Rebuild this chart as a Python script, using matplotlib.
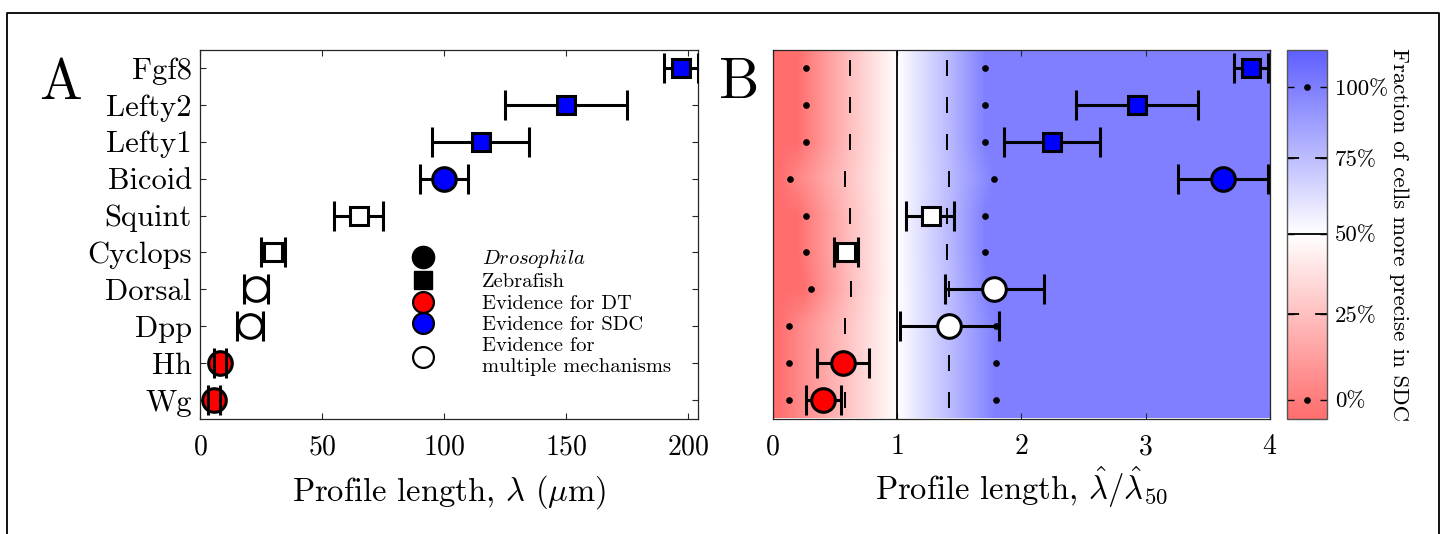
import numpy as np
import matplotlib
matplotlib.use("Agg")
import matplotlib.pyplot as plt
from matplotlib.lines import Line2D
from matplotlib import colors, transforms
import matplotlib.cm as cm

plt.rcParams['font.family'] = ['cmr10']
plt.rcParams['mathtext.fontset'] = 'cm'
plt.rcParams['axes.unicode_minus'] = False
plt.rcParams['axes.formatter.use_mathtext'] = True

# ---------------- data ----------------
genes = ['Fgf8', 'Lefty2', 'Lefty1', 'Bicoid', 'Squint', 'Cyclops', 'Dorsal', 'Dpp', 'Hh', 'Wg']
organism = ['Zebrafish', 'Zebrafish', 'Zebrafish', 'Drosophila', 'Zebrafish', 'Zebrafish',
            'Drosophila', 'Drosophila', 'Drosophila', 'Drosophila']
evidence = ['SDC', 'SDC', 'SDC', 'SDC', 'multiple', 'multiple', 'multiple', 'multiple', 'DT', 'DT']

# panel A: profile length (um)
lam = [197, 150, 115, 100, 65, 30, 23, 20.5, 8.2, 5.9]
lam_err = [7, 25, 20, 10, 10, 5, 5, 5.5, 2.3, 2.5]

# panel B: normalised profile length
ratio = [3.844, 2.93, 2.244, 3.62, 1.27, 0.588, 1.78, 1.42, 0.567, 0.406]
ratio_lo = [3.71, 2.44, 1.86, 3.26, 1.075, 0.49, 1.385, 1.02, 0.358, 0.265]
ratio_hi = [3.985, 3.42, 2.635, 3.98, 1.46, 0.685, 2.18, 1.82, 0.775, 0.553]

# positions where the fraction of cells more precise in SDC reaches 0,25,50,75,100 %
pct0 = [0.267, 0.267, 0.267, 0.139, 0.267, 0.267, 0.305, 0.131, 0.131, 0.131]
pct25 = [0.62, 0.62, 0.62, 0.58, 0.62, 0.62, 0.63, 0.58, 0.58, 0.58]
pct50 = [1.0] * 10
pct75 = [1.40, 1.40, 1.40, 1.415, 1.40, 1.40, 1.42, 1.42, 1.42, 1.42]
pct100 = [1.71, 1.71, 1.71, 1.78, 1.71, 1.71, 1.74, 1.80, 1.795, 1.795]
frac_levels = [0.0, 0.25, 0.5, 0.75, 1.0]
cbar_labels = ['0%', '25%', '50%', '75%', '100%']

# ---------------- styles ----------------
fill = {'SDC': (0, 0, 1), 'DT': (1, 0, 0), 'multiple': (1, 1, 1)}
mark = {'Drosophila': 'o', 'Zebrafish': 's'}
msize = {'o': 17, 's': 13.5}
AXC = '#262626'

W, H = 1444, 534
fig = plt.figure(figsize=(W / 100, H / 100), dpi=100)
bot = 1 - 418.5 / H
hgt = 369 / H
axA = fig.add_axes([200 / W, bot, 497.7 / W, hgt])
axB = fig.add_axes([772.7 / W, bot, 497.3 / W, hgt])
cax = fig.add_axes([1286.7 / W, bot, 40 / W, hgt])

# outer frame
fx0, fx1, fy1 = 7 / W, 1439 / W, 1 - 13.3 / H
fig.add_artist(Line2D([fx0, fx0, fx1, fx1], [-0.01, fy1, fy1, -0.01],
                      transform=fig.transFigure, color='k', lw=1.3))

ypos = np.arange(len(genes), 0, -1)


def draw_points(ax, x, xerr):
    for i in range(len(genes)):
        m = mark[organism[i]]
        eb = ax.errorbar([x[i]], [ypos[i]], xerr=[[xerr[0][i]], [xerr[1][i]]], fmt='none',
                         ecolor='k', elinewidth=2.2, capsize=10.5, capthick=2.2, zorder=3)
        for c in eb[1]:
            c.set_zorder(5)
        ax.plot([x[i]], [ypos[i]], marker=m, ms=msize[m], mfc=fill[evidence[i]],
                mec='k', mew=2.2, ls='none', zorder=4, clip_on=False)


# ---------------- panel A ----------------
lam_arr = np.array(lam)
err_arr = np.array(lam_err)
draw_points(axA, lam_arr, (err_arr, err_arr))
axA.set_xlim(0, 204)
axA.set_ylim(0.5, len(genes) + 0.5)
axA.set_xticks([0, 50, 100, 150, 200])
axA.set_yticks(ypos)
axA.set_yticklabels(genes)
axA.tick_params(axis='both', direction='in', length=4.3, width=0.8, color=AXC,
                top=True, right=True)
axA.tick_params(axis='x', labelsize=20, pad=11)
axA.tick_params(axis='y', labelsize=22, pad=6)
for s in axA.spines.values():
    s.set_color(AXC)
    s.set_linewidth(0.9)
axA.set_xlabel(r'Profile length, $\lambda$ ($\mu$m)', fontsize=23.5, labelpad=9)

handles = [
    Line2D([], [], marker='o', ls='none', mfc='k', mec='k', ms=16, label=r'$\mathit{Drosophila}$'),
    Line2D([], [], marker='s', ls='none', mfc='k', mec='k', ms=12.5, label='Zebrafish'),
    Line2D([], [], marker='o', ls='none', mfc='r', mec='k', mew=1.6, ms=15, label='Evidence for DT'),
    Line2D([], [], marker='o', ls='none', mfc='b', mec='k', mew=1.6, ms=15, label='Evidence for SDC'),
    Line2D([], [], marker='o', ls='none', mfc='w', mec='k', mew=1.6, ms=15,
           label='Evidence for\nmultiple mechanisms'),
]
axA.legend(handles=handles, loc='upper left', bbox_to_anchor=((408 - 200) / 497.7, (418.5 - 247) / 369),
           frameon=False, fontsize=14.8, handlelength=1.5, handletextpad=2.1,
           labelspacing=0.15, borderpad=0, borderaxespad=0)

# ---------------- panel B ----------------
# colour scale: position along colour bar as function of fraction
def fwd(f):
    f = np.asarray(f, dtype=float)
    return (19 + 352.5 * f - 39.8 * f ** 2) / 369.7


def inv(g):
    g = np.asarray(g, dtype=float)
    p = g * 369.7
    return (352.5 - np.sqrt(np.clip(352.5 ** 2 - 4 * 39.8 * (p - 19), 0, None))) / 79.6


vmin, vmax = float(inv(0.0)), float(inv(1.0))
norm = colors.FuncNorm((fwd, inv), vmin=vmin, vmax=vmax)
cmap = colors.LinearSegmentedColormap.from_list(
    'rwb', [(0.0, (1.0, 0.43, 0.43)), (0.5, (1, 1, 1)), (1.0, (0.37, 0.37, 1.0))])

xs = np.linspace(0, 4, 800)
rows = []
for i in range(len(genes)):
    knots = [pct0[i], pct25[i], pct50[i], pct75[i], pct100[i]]
    f = np.interp(xs, knots, frac_levels)
    left = xs < knots[0]
    f[left] = 0.25 * (xs[left] - knots[0]) / (knots[1] - knots[0])
    rows.append(np.clip(f, vmin, 1.0))
axB.imshow(np.array(rows), cmap=cmap, norm=norm, aspect='auto', origin='upper',
           extent=[0, 4, 0.5, len(genes) + 0.5], interpolation='bilinear', zorder=0)

axB.axvline(1.0, color='k', lw=1.3, zorder=2)
axB.plot(pct0, ypos, 'o', ms=3.8, color='k', zorder=2)
axB.plot(pct100, ypos, 'o', ms=3.8, color='k', zorder=2)
axB.plot(pct25, ypos, '|', ms=11.5, mew=1.4, color='k', zorder=2)
axB.plot(pct75, ypos, '|', ms=11.5, mew=1.4, color='k', zorder=2)

r = np.array(ratio)
draw_points(axB, r, (r - np.array(ratio_lo), np.array(ratio_hi) - r))
axB.set_xlim(0, 4)
axB.set_ylim(0.5, len(genes) + 0.5)
axB.set_xticks([0, 1, 2, 3, 4])
axB.set_yticks([])
axB.tick_params(axis='x', direction='in', length=4.3, width=0.8, color=AXC, top=True,
                labelsize=20, pad=11)
for s in axB.spines.values():
    s.set_color(AXC)
    s.set_linewidth(0.9)
axB.set_xlabel(r'Profile length, $\hat{\lambda}/\hat{\lambda}_{50}$', fontsize=23.5, labelpad=3)

# ---------------- colour bar ----------------
sm = cm.ScalarMappable(norm=norm, cmap=cmap)
cb = fig.colorbar(sm, cax=cax)
cb.set_ticks(frac_levels)
cb.set_ticklabels(cbar_labels)
cb.outline.set_edgecolor('#555555')
cb.outline.set_linewidth(1.0)
cax.tick_params(axis='y', direction='in', length=5, width=1.0, color='k', left=True,
                right=True, labelsize=16.5, pad=6)
bl = transforms.blended_transform_factory(cax.transAxes, cax.transData)
cax.plot([0, 1], [0.5, 0.5], color='k', lw=1.3, transform=bl)
for lv in (0.25, 0.75):
    cax.plot([0, 1], [lv, lv], color='k', lw=1.3, transform=bl, dashes=(6.7, 8.9, 14, 8.9))
for lv in (0.0, 1.0):
    cax.plot([0.5], [lv], 'o', ms=3.8, color='k', transform=bl)
cb.set_label('Fraction of cells more precise in SDC', rotation=270, fontsize=16.5, labelpad=15)

# panel letters
fig.text(60.7 / W, 1 - 99.3 / H, 'A', fontsize=41, ha='center', va='baseline')
fig.text(739 / W, 1 - 97.5 / H, 'B', fontsize=41, ha='center', va='baseline')

fig.savefig('out.png', dpi=100)
